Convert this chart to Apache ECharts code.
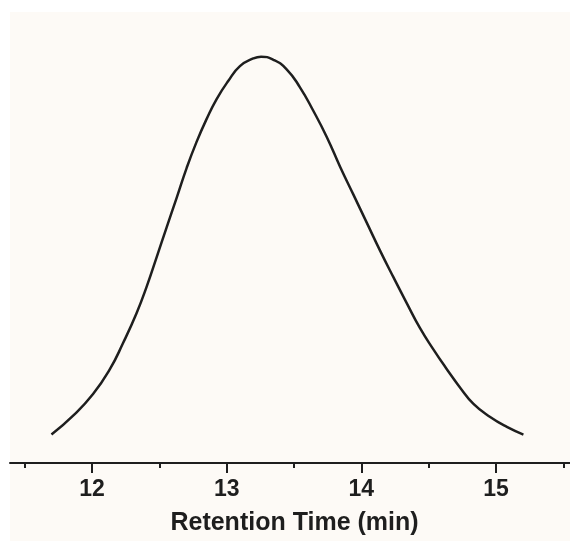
<!DOCTYPE html>
<html>
<head>
<meta charset="utf-8">
<script src="https://cdn.jsdelivr.net/npm/echarts@6/dist/echarts.min.js"></script>
<style>
html,body{margin:0;padding:0;background:#ffffff;}
#c{width:570px;height:541px;}
</style>
</head>
<body>
<div id="c"></div>
<script>
// Retention time (min) and detector response (relative, 0-100)
const retentionTime = [11.698, 11.859, 12.007, 12.132, 12.230, 12.330, 12.404, 12.479, 12.553, 12.628, 12.702, 12.776, 12.851, 12.925, 13.011, 13.098, 13.197, 13.255, 13.346, 13.445, 13.544, 13.643, 13.743, 13.842, 13.941, 14.040, 14.139, 14.238, 14.338, 14.436, 14.535, 14.635, 14.734, 14.833, 14.957, 15.081, 15.204];
const response      = [6.3, 10.5, 15.3, 20.8, 26.6, 33.2, 39.0, 45.6, 52.2, 58.8, 65.4, 71.2, 76.3, 80.7, 84.7, 88.0, 89.7, 90.1, 89.4, 87.3, 83.3, 78.1, 72.3, 65.7, 59.5, 53.3, 47.1, 41.2, 35.4, 29.9, 25.2, 20.8, 16.7, 13.1, 10.2, 8.0, 6.3];
const majorTicks = [12, 13, 14, 15];
const minorTicks = [11.5, 12.5, 13.5, 14.5, 15.5];
const xTitle = 'Retention Time (min)';

const data = retentionTime.map((t, i) => [t, response[i]]);
const chart = echarts.init(document.getElementById('c'), null, {renderer: 'canvas'});
const ink = '#1e1e1e';
const font = '"Liberation Sans", Arial, sans-serif';
chart.setOption({
  backgroundColor: '#ffffff',
  animation: false,
  graphic: [{
    type: 'rect', z: -10, silent: true,
    shape: {x: 10, y: 12, width: 560, height: 529},
    style: {fill: '#fdfaf6'}
  }],
  grid: {left: 10, right: 0, top: 12, bottom: 73, containLabel: false},
  xAxis: [{
    type: 'value', min: 11.39, max: 15.55,
    axisLine: {show: true, lineStyle: {color: ink, width: 2}},
    axisTick: {show: true, customValues: majorTicks, length: 10, lineStyle: {color: ink, width: 2}},
    axisLabel: {show: true, customValues: majorTicks, margin: 15, color: ink, fontFamily: font, fontWeight: 'bold', fontSize: 23},
    splitLine: {show: false},
    name: xTitle, nameLocation: 'middle', nameGap: 48,
    nameTextStyle: {color: ink, fontFamily: font, fontWeight: 'bold', fontSize: 25, padding: [0, 0, 0, 9]}
  }, {
    type: 'value', min: 11.39, max: 15.55, position: 'bottom',
    axisLine: {show: false},
    axisTick: {show: true, customValues: minorTicks, length: 5, lineStyle: {color: ink, width: 2}},
    axisLabel: {show: false},
    splitLine: {show: false}
  }],
  yAxis: {type: 'value', min: 0, max: 100, show: false},
  series: [{
    type: 'line', data: data, smooth: 0.5, symbol: 'none', xAxisIndex: 0,
    lineStyle: {color: ink, width: 2.5}
  }]
});
</script>
</body>
</html>
